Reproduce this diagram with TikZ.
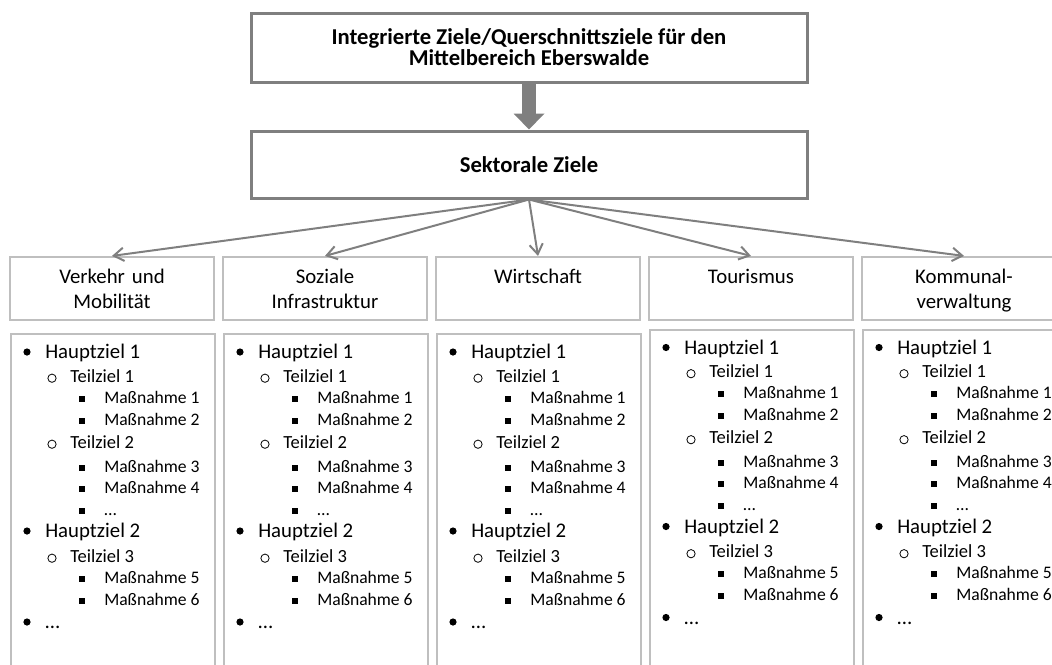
\documentclass[tikz,border=0pt]{standalone}
\usepackage{fontspec}
\setmainfont{Carlito}
\usetikzlibrary{arrows.meta}
\definecolor{darkg}{HTML}{7F7F7F}
\definecolor{lightg}{HTML}{BFBFBF}
\newcommand\fsA{\fontsize{15.6pt}{18pt}\selectfont}
\newcommand\fsB{\fontsize{13.9pt}{16pt}\selectfont}
\newcommand\fsC{\fontsize{13.2pt}{15pt}\selectfont}
\newcommand\lvfont[1]{\ifcase#1\relax\or\fsA\or\fsB\or\fsC\fi}
\begin{document}
\begin{tikzpicture}[x=0.75pt,y=-0.75pt,
  topbox/.style={draw=darkg, line width=2.25pt, minimum width=417pt, inner sep=0pt, align=center,
    font=\fontsize{17}{13.75}\selectfont\bfseries},
  headbox/.style={draw=lightg, line width=1.6pt, minimum width=153pt, minimum height=47.25pt, inner sep=0pt},
  headtext/.style={anchor=base, text width=150pt, align=center, inner sep=0pt,
    font=\fontsize{15.6}{18.75}\selectfont},
  bodybox/.style={draw=lightg, line width=1.6pt, minimum width=153pt, minimum height=270pt, inner sep=0pt, anchor=north west},
  conn/.style={draw=darkg, line width=1.5pt, -{Straight Barb[length=7.5pt,width=10pt]}},
  fat/.style={draw=darkg, line width=10.5pt, -{Triangle[width=22.5pt,length=12pt]}},
  lvl1/.style={anchor=mid west, inner sep=0pt, xshift=26.25pt, yshift=-1.8pt},
  lvl2/.style={anchor=mid west, inner sep=0pt, xshift=45pt, yshift=-1.6pt},
  lvl3/.style={anchor=mid west, inner sep=0pt, xshift=70.5pt, yshift=-1.5pt},
  bul1/.style={circle, fill=black, inner sep=0pt, minimum size=5.4pt, xshift=12.75pt, yshift=0.75pt},
  bul2/.style={circle, draw=black, line width=0.6pt, inner sep=0pt, minimum size=6.2pt, xshift=31.5pt, yshift=-0.9pt},
  bul3/.style={rectangle, fill=black, inner sep=0pt, minimum size=4.4pt, xshift=54pt, yshift=-0.5pt}
]
\path[use as bounding box] (0,0) rectangle (1052,664);
\clip (0,0) rectangle (1052,664);

\node[topbox, minimum height=51.75pt] (top) at (529,47.5) {Integrierte Ziele/Querschnittsziele für den\\Mittelbereich Eberswalde};
\node[topbox, minimum height=50.25pt] (sek) at (529,164.5) {Sektorale Ziele};
\draw[fat] (top.south) -- (sek.north);

\foreach \lab [count=\n] in {{Verkehr und\\Mobilität},{Soziale\\Infrastruktur},{Wirtschaft},{Tourismus},{Kommunal-\\verwaltung}}{
  \pgfmathsetmacro\lx{10+213*(\n-1)}
  \pgfmathsetmacro\dy{\n>3 ? -4.5 : 0}
  \node[headbox] (h\n) at (\lx+102,288.5) {};
  \node[headtext] (ht\n) at (\lx+102,283) {\lab};
  \draw[conn] (sek.south) -- (h\n.north);
  \node[bodybox] (b\n) at (\lx,333+\dy) {};
  \foreach \lv/\yy/\txt [count=\k] in {1/353/Hauptziel 1,2/377/Teilziel 1,3/398/Maßnahme 1,3/420/Maßnahme 2,2/443/Teilziel 2,3/467/Maßnahme 3,3/488/Maßnahme 4,3/510/…,1/532/Hauptziel 2,2/557/Teilziel 3,3/578/Maßnahme 5,3/600/Maßnahme 6,1/623/…}{
    \node[bul\lv] (m\n-\k) at (\lx,\yy+\dy) {};
    \node[lvl\lv] (i\n-\k) at (\lx,\yy+\dy) {\lvfont{\lv}\txt};
  }
}
\end{tikzpicture}
\end{document}
